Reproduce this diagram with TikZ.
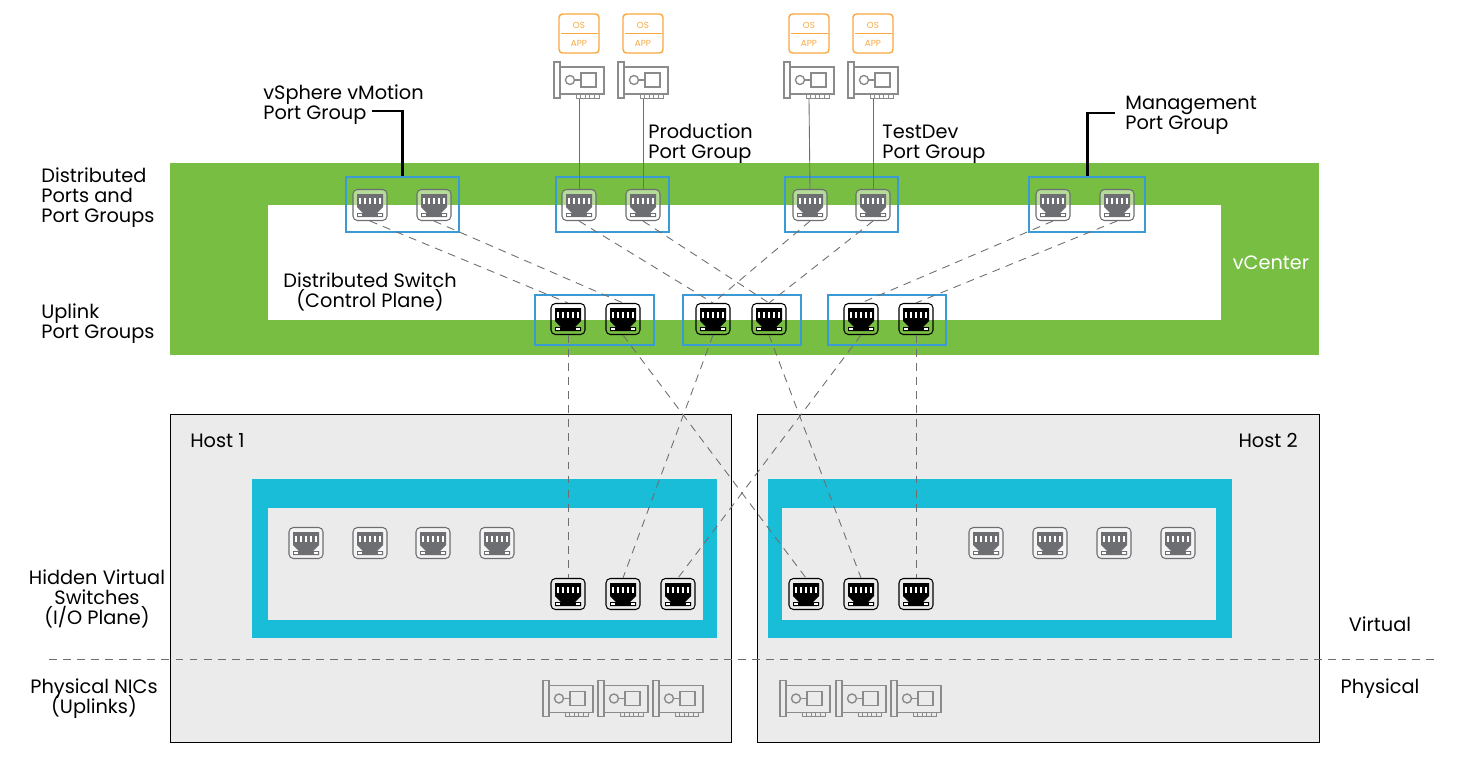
\documentclass[tikz,border=0pt]{standalone}
\usepackage{fontspec}
\usepackage{xcolor}
\setmainfont{Poppins}
\definecolor{vcgreen}{HTML}{78BE43}
\definecolor{hostcyan}{HTML}{19BDD7}
\definecolor{groupblue}{HTML}{3A9AD6}
\definecolor{hostgray}{HTML}{EBEBEB}
\definecolor{icongray}{HTML}{6D6E71}
\definecolor{nicgray}{HTML}{8A8B8D}
\definecolor{vmorange}{HTML}{F8A83F}
\newcommand{\lblfont}{\fontsize{11}{11.4}\selectfont\setlength{\lineskiplimit}{-10pt}}
\tikzset{
lbl/.style={font=\lblfont,align=left,inner sep=0pt},
lines/.style={lbl,yshift=-1.7pt},
groupbox/.style={draw=groupblue,line width=0.8pt,inner sep=0pt},
portbox/.style={draw=#1,rounded corners=2.5pt,minimum width=0.68cm,minimum height=0.62cm,inner sep=0pt,line width=0.6pt},
nicbox/.style={minimum width=1cm,minimum height=0.74cm,inner sep=0pt},
vmbox/.style={draw=vmorange,rounded corners=2pt,line width=0.8pt,minimum width=0.8cm,minimum height=0.78cm,inner sep=0pt},
wire/.style={icongray,line width=0.5pt},
dashwire/.style={icongray,line width=0.5pt,dash pattern=on 4.5pt off 3.5pt},
leader/.style={black,line width=1.7pt}
}
% one network port, name x y colour fill opacity
\newcommand{\lanport}[5]{
\node[portbox=#4,fill=white,fill opacity=#5] (#1) at (#2,#3) {};
\begin{scope}[shift={(#2,#3)}]
\fill[#4] (-13,-11) -- (13,-11) -- (13,2) -- (7,8) -- (13,8) -- (13,12) -- (-13,12) -- (-13,8) -- (-7,8) -- (-13,2) -- cycle;
\foreach \pin in {-10,-5,0,5,10} \fill[white] (\pin-1.2,-7) rectangle (\pin+1.2,-1);
\fill[white] (-12,9) rectangle (-8,11);
\fill[white] (8,9) rectangle (12,11);
\end{scope}
}
% one network card, name x y
\newcommand{\niccard}[3]{
\node[nicbox] (#1) at (#2,#3) {};
\begin{scope}[shift={(#2,#3)},draw=nicgray,line width=0.8pt]
\draw (-25,-18) rectangle (-19,18);
\draw (-19,-13) -- (25,-13) -- (25,14) -- (-19,14);
\draw (-9,0) circle (4.5);
\draw (-4.5,0) -- (2,0);
\draw (2,-7) rectangle (17,7);
\draw[line width=0.5pt] (-3,14) -- (-3,18) -- (20,18) -- (20,14);
\foreach \tooth in {1.6,6.2,10.8,15.4} \draw[line width=0.5pt] (\tooth,14) -- (\tooth,18);
\end{scope}
}
% one virtual machine, name x y
\newcommand{\vmicon}[3]{
\node[vmbox] (#1) at (#2,#3) {};
\draw[vmorange,line width=0.6pt] (#2-18,#3) -- (#2+19,#3);
\node[vmorange,font=\fontsize{5}{5}\selectfont] at (#2,#3-8.5) {OS};
\node[vmorange,font=\fontsize{5}{5}\selectfont] at (#2,#3+9.5) {APP};
}
\begin{document}
\begin{tikzpicture}[x=0.02cm,y=-0.02cm]
\useasboundingbox (0,0) rectangle (1468,758);
% vcenter band
\fill[vcgreen] (170,163) rectangle (1319,355);
\fill[white] (268,205) rectangle (1221,320);
\node[lbl,white] (vcenterlbl) at (1271,263) {vCenter};
% hosts
\draw[fill=hostgray,draw=black,line width=0.5pt] (170,414) rectangle (731,742);
\draw[fill=hostgray,draw=black,line width=0.5pt] (757,414) rectangle (1319,742);
\fill[hostcyan] (252,479) rectangle (717,638);
\fill[hostgray] (268,508) rectangle (703,620);
\fill[hostcyan] (768,479) rectangle (1232,638);
\fill[hostgray] (782,508) rectangle (1216,620);
\node[lbl,anchor=west] (hostonelbl) at (190,441) {Host 1};
\node[lbl,anchor=east] (hosttwolbl) at (1298,440) {Host 2};
% ports
\foreach \name/\x/\y in {dpa/370/205,dpb/434/205,dpc/579/205,dpd/643/205,dpe/810/205,dpf/873/205,dpg/1053/205,dph/1117/205,
  hga/306/543,hgb/370/543,hgc/433/543,hgd/497/543,hge/986/543,hgf/1050/543,hgg/1114/543,hgh/1178/543}
  {\lanport{\name}{\x}{\y}{icongray}{0.45}}
\foreach \name/\x/\y in {upa/568/319,upb/623/319,upc/713/319,upd/769/319,upe/861/319,upf/916/319,
  hba/568/594,hbb/623/594,hbc/678/594,hbd/806/594,hbe/861/594,hbf/916/594}
  {\lanport{\name}{\x}{\y}{black}{0}}
% port groups
\node[groupbox,minimum width=2.26cm,minimum height=1.1cm] (vmotionbox) at (402.5,204.5) {};
\node[groupbox,minimum width=2.26cm,minimum height=1.1cm] (prodbox) at (612.5,204.5) {};
\node[groupbox,minimum width=2.26cm,minimum height=1.1cm] (testbox) at (841.5,204.5) {};
\node[groupbox,minimum width=2.32cm,minimum height=1.1cm] (mgmtbox) at (1087,204.5) {};
\node[groupbox,minimum width=2.38cm,minimum height=1cm] (uplinkabox) at (594.5,320) {};
\node[groupbox,minimum width=2.36cm,minimum height=1cm] (uplinkbbox) at (742,320) {};
\node[groupbox,minimum width=2.36cm,minimum height=1cm] (uplinkcbox) at (887,320) {};
% vms and cards
\foreach \name/\x in {a/579,b/643,c/809,d/873}
  {\vmicon{vm\name}{\x}{33.5}
   \niccard{vnic\name}{\x}{80}}
\foreach \name/\x in {a/568,b/623,c/678,d/805,e/861,f/916}
  {\niccard{pnic\name}{\x}{698.5}}
% wires
\draw[wire] (vnica.south) -- (dpc.north);
\draw[wire] (vnicb.south) -- (dpd.north);
\draw[wire] (vnicc.south) -- (dpe.north);
\draw[wire] (vnicd.south) -- (dpf.north);
\draw[dashwire] (dpa.south) -- (upa.north);
\draw[dashwire] (dpb.south) -- (upb.north);
\draw[dashwire] (dpc.south) -- (upc.north);
\draw[dashwire] (dpd.south) -- (upd.north);
\draw[dashwire] (dpe.south) -- (upc.north);
\draw[dashwire] (dpf.south) -- (upd.north);
\draw[dashwire] (dpg.south) -- (upe.north);
\draw[dashwire] (dph.south) -- (upf.north);
\draw[dashwire] (upa.south) -- (hba.north);
\draw[dashwire] (upb.south) -- (hbd.north);
\draw[dashwire] (upc.south) -- (hbb.north);
\draw[dashwire] (upd.south) -- (hbe.north);
\draw[dashwire] (upe.south) -- (hbc.north);
\draw[dashwire] (upf.south) -- (hbf.north);
% virtual and physical split
\coordinate (splitleft) at (49,659);
\coordinate (splitright) at (1436,659);
\draw[dashwire] (splitleft) -- (splitright);
% labels
\node[lines,anchor=west] (portslbl) at (41,195) {Distributed\\Ports and\\Port Groups};
\node[lines,anchor=west] (uplinklbl) at (41,321) {Uplink\\Port Groups};
\node[lines,anchor=west] (vmotionlbl) at (263,102) {vSphere vMotion\\Port Group};
\node[lines,anchor=west] (prodlbl) at (648,141) {Production\\Port Group};
\node[lines,anchor=west] (testlbl) at (882,141) {TestDev\\Port Group};
\node[lines,anchor=west] (mgmtlbl) at (1125,112) {Management\\Port Group};
\node[lines,align=center] (switchlbl) at (370,289) {Distributed Switch\\(Control Plane)};
\node[lines,align=center] (hiddenlbl) at (97,596) {Hidden Virtual\\Switches\\(I/O Plane)};
\node[lines,align=center] (nicslbl) at (94,696) {Physical NICs\\(Uplinks)};
\node[lbl] (virtuallbl) at (1380,624) {Virtual};
\node[lbl] (physicallbl) at (1380,689) {Physical};
% leaders
\coordinate (vmotionend) at (372,111);
\coordinate (mgmtend) at (1115,113);
\draw[leader] (vmotionend) -| (vmotionbox.north);
\draw[leader] (mgmtend) -| (mgmtbox.north);
\end{tikzpicture}
\end{document}
